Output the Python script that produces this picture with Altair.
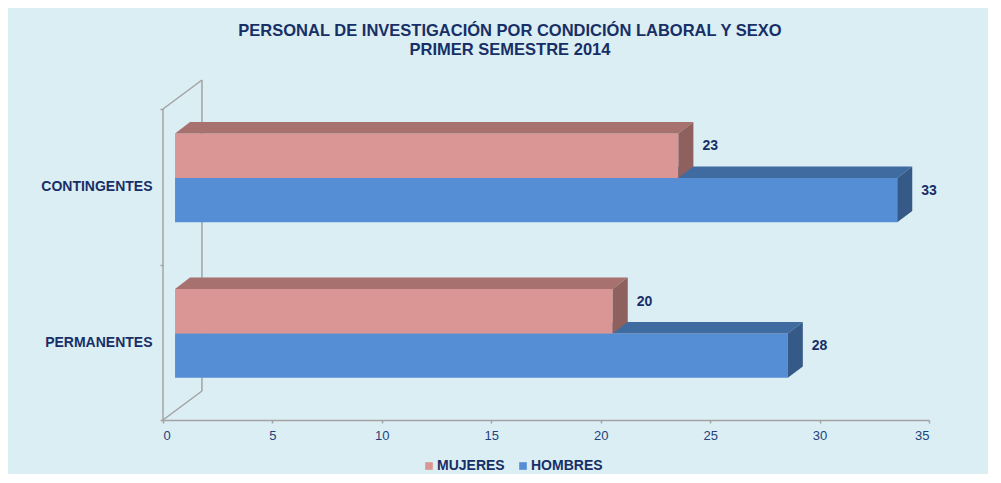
import altair as alt
import pandas as pd

# ---------------- data ----------------
categorias = ["PERMANENTES", "CONTINGENTES"]
series = ["MUJERES", "HOMBRES"]
mujeres = [20, 23]
hombres = [28, 33]
x_ticks = [0, 5, 10, 15, 20, 25, 30, 35]

titulo = ["PERSONAL DE INVESTIGACIÓN POR CONDICIÓN LABORAL Y SEXO",
          "PRIMER SEMESTRE 2014"]

# ---------------- style / 3D geometry ----------------
NAVY = "#172F66"
TICKNAVY = "#23427A"
GRAY = "#A3A3A3"
BG = "#DBEEF4"
FRONT = {"MUJERES": "#D99694", "HOMBRES": "#558ED5"}
TOP = {"MUJERES": "#A6716F", "HOMBRES": "#406BA0"}
SIDE = {"MUJERES": "#8E605E", "HOMBRES": "#365A87"}
FONT = "Liberation Sans"

XMAX = 35
WALL_DX, WALL_DY = 1.78, 0.1865      # depth of the 3D box (x units, band units)
FDX, FDY = 0.55, 0.057                # bar front face offset from the front plane
DDX, DDY = 0.685, 0.073               # bar depth
BAR_H = 0.286                         # bar thickness (band units)

n = len(categorias)
values = {"MUJERES": mujeres, "HOMBRES": hombres}

front_rows, top_rows, side_rows = [], [], []
for ci, cat in enumerate(categorias):
    base = ci + 0.5 + FDY
    for s in series:
        v = values[s][ci]
        if s == "MUJERES":
            y0, y1 = base, base + BAR_H
        else:
            y0, y1 = base - BAR_H, base
        x0, x1 = FDX, FDX + v
        bid = f"{cat}-{s}"
        front_rows.append(dict(serie=s, cat=cat, v=v, x0=x0, x1=x1, y0=y0, y1=y1,
                               yc=(y0 + y1) / 2))
        top_rows += [dict(serie=s, bid=bid, y=y1, xa=x0, xb=x1),
                     dict(serie=s, bid=bid, y=y1 + DDY, xa=x0 + DDX, xb=x1 + DDX)]
        side_rows += [dict(serie=s, bid=bid, x=x1, ya=y0, yb=y1),
                      dict(serie=s, bid=bid, x=x1 + DDX, ya=y0 + DDY, yb=y1 + DDY)]

front_df = pd.DataFrame(front_rows)
top_df = pd.DataFrame(top_rows)
side_df = pd.DataFrame(side_rows)
walls_df = pd.DataFrame([
    dict(xa=0, ya=0, xb=0, yb=n),
    dict(xa=WALL_DX, ya=WALL_DY, xb=WALL_DX, yb=n + WALL_DY),
    dict(xa=0, ya=n, xb=WALL_DX, yb=n + WALL_DY),
    dict(xa=0, ya=0, xb=WALL_DX, yb=WALL_DY),
])

# ---------------- scales & axes ----------------
XS = alt.Scale(domain=[0, XMAX], nice=False, zero=False)
YS = alt.Scale(domain=[0, n + WALL_DY], nice=False, zero=False)

XAXIS = alt.Axis(values=x_ticks, title=None, grid=False, domainColor=GRAY,
                 domainWidth=1.5, tickColor=GRAY, tickSize=3, tickWidth=1.5,
                 labelFont=FONT, labelFontSize=13, labelColor=TICKNAVY,
                 labelPadding=6)
label_expr = " : ".join(
    [f"datum.value == {i + 0.5} ? '{c}'" for i, c in enumerate(categorias)]) + " : ''"
YAXIS = alt.Axis(values=[i * 0.5 for i in range(2 * n + 1)], title=None, grid=False,
                 domain=False, tickColor=GRAY, tickSize=3, tickWidth=1.5,
                 tickOpacity={"condition": {"test": "datum.value % 1 == 0", "value": 1},
                              "value": 0},
                 labelExpr=label_expr, labelFont=FONT, labelFontSize=14,
                 labelFontWeight="bold", labelColor=NAVY, labelPadding=8)


def X(f):
    return alt.X(f"{f}:Q", scale=XS, axis=XAXIS, stack=None)


def Y(f):
    return alt.Y(f"{f}:Q", scale=YS, axis=YAXIS, stack=None)


color = alt.Color("serie:N", scale=alt.Scale(domain=series,
                                             range=[FRONT[s] for s in series]),
                  legend=alt.Legend(title=None, orient="none", legendX=259,
                                    legendY=379, direction="horizontal",
                                    symbolType="square", symbolSize=58,
                                    symbolStrokeWidth=0, labelFont=FONT,
                                    labelFontSize=14, labelFontWeight="bold",
                                    labelColor=NAVY, labelOffset=1,
                                    columnPadding=11, padding=0))

walls = alt.Chart(walls_df).mark_rule(color=GRAY, strokeWidth=1.5).encode(
    x=X("xa"), x2="xb", y=Y("ya"), y2="yb")

layers = [walls]
for s in ["HOMBRES", "MUJERES"]:
    fr = alt.Chart(front_df).transform_filter(alt.datum.serie == s).mark_rect().encode(
        x=X("x0"), x2="x1", y=Y("y0"), y2="y1", color=color)
    tp = alt.Chart(top_df).transform_filter(alt.datum.serie == s).mark_area(
        orient="horizontal", color=TOP[s], opacity=1).encode(
        y=Y("y"), x=X("xa"), x2="xb", detail="bid:N")
    sd = alt.Chart(side_df).transform_filter(alt.datum.serie == s).mark_area(
        orient="vertical", color=SIDE[s], opacity=1).encode(
        x=X("x"), y=Y("ya"), y2="yb", detail="bid:N")
    layers += [fr, tp, sd]

labels = alt.Chart(front_df).mark_text(
    align="left", baseline="middle", dx=24, dy=-9.5, font=FONT, fontSize=14,
    fontWeight="bold", color=NAVY).encode(x=X("x1"), y=Y("yc"), text="v:Q")
layers.append(labels)

chart = alt.layer(*layers).properties(
    width=766, height=340,
    title=alt.TitleParams(text=titulo, font=FONT, fontSize=16.5, fontWeight="bold",
                          color=NAVY, anchor="middle", dx=-36, offset=21,
                          lineHeight=19),
    autosize=alt.AutoSizeParams(type="none"),
    padding={"left": 155, "top": 72, "right": 59, "bottom": 54},
    background=BG,
).configure_view(stroke=None)

chart.save("out.html", embed_options={"renderer": "svg", "actions": False})
